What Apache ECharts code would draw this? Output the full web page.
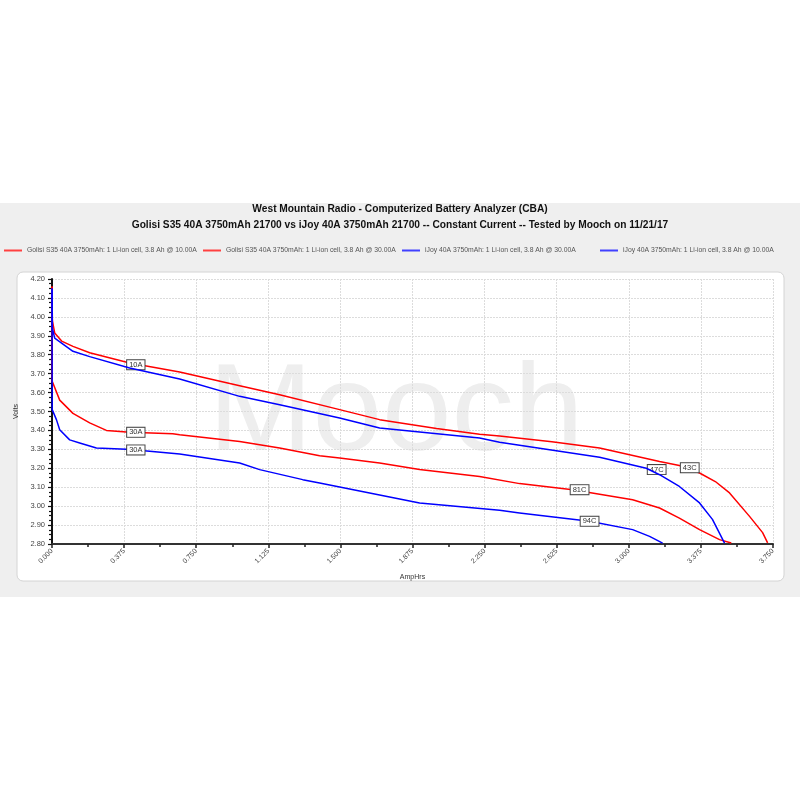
<!DOCTYPE html>
<html><head><meta charset="utf-8">
<script src="https://cdn.jsdelivr.net/npm/echarts@6/dist/echarts.min.js"></script>
<style>html,body{margin:0;padding:0;background:#fff}#c{width:800px;height:800px}</style>
</head><body><div id="c"></div>
<script>
const titleLine1 = 'West Mountain Radio - Computerized Battery Analyzer (CBA)';
const titleLine2 = 'Golisi S35 40A 3750mAh 21700 vs iJoy 40A 3750mAh 21700 -- Constant Current -- Tested by Mooch on 11/21/17';
const seriesNames = [
  'Golisi S35 40A 3750mAh: 1 Li-ion cell, 3.8 Ah @ 10.00A',
  'Golisi S35 40A 3750mAh: 1 Li-ion cell, 3.8 Ah @ 30.00A',
  'iJoy 40A 3750mAh: 1 Li-ion cell, 3.8 Ah @ 30.00A',
  'iJoy 40A 3750mAh: 1 Li-ion cell, 3.8 Ah @ 10.00A'
];
const seriesColors = ['#ff0000', '#ff0000', '#0000ff', '#0000ff'];
const legendColors = ['#ff4040', '#ff4040', '#4040ff', '#4040ff'];

const golisi10A = [[0,4.16],[0.002,3.98],[0.014,3.915],[0.05,3.872],[0.109,3.844],[0.196,3.81],[0.404,3.756],[0.664,3.709],[0.976,3.636],[1.184,3.589],[1.496,3.51],[1.704,3.457],[2.0,3.41],[2.224,3.38],[2.328,3.37],[2.6,3.34],[2.848,3.307],[3.16,3.236],[3.263,3.215],[3.368,3.175],[3.45,3.13],[3.524,3.07],[3.628,2.946],[3.696,2.86],[3.722,2.806]];
const golisi30A = [[0,4.16],[0.001,3.66],[0.005,3.65],[0.04,3.56],[0.109,3.49],[0.196,3.44],[0.283,3.40],[0.404,3.39],[0.628,3.383],[0.664,3.377],[0.976,3.342],[1.184,3.307],[1.392,3.266],[1.496,3.254],[1.704,3.228],[1.912,3.193],[2.224,3.157],[2.432,3.119],[2.708,3.087],[3.02,3.034],[3.16,2.99],[3.263,2.937],[3.368,2.876],[3.472,2.823],[3.533,2.805]];
const ijoy30A = [[0,4.15],[0.001,3.51],[0.023,3.457],[0.04,3.404],[0.092,3.35],[0.144,3.334],[0.231,3.307],[0.387,3.30],[0.508,3.29],[0.664,3.276],[0.768,3.26],[0.976,3.228],[1.08,3.193],[1.304,3.14],[1.392,3.122],[1.912,3.017],[2.328,2.978],[2.432,2.964],[2.796,2.92],[3.02,2.876],[3.108,2.84],[3.176,2.805]];
const ijoy10A = [[0,4.15],[0.002,3.94],[0.014,3.888],[0.109,3.818],[0.196,3.79],[0.404,3.73],[0.664,3.672],[0.976,3.58],[1.184,3.536],[1.496,3.466],[1.704,3.413],[2.224,3.36],[2.328,3.338],[2.848,3.258],[3.091,3.20],[3.16,3.166],[3.263,3.104],[3.368,3.017],[3.435,2.93],[3.498,2.805]];
const seriesData = [golisi10A, golisi30A, ijoy30A, ijoy10A];

// annotation boxes: text, series index, Ah, Volts
const noteText = ['10A', '43C', '30A', '81C', '30A', '94C', '47C'];
const noteSeries = [0, 0, 1, 1, 2, 2, 3];
const noteAh = [0.436, 3.317, 0.436, 2.744, 0.436, 2.796, 3.145];
const noteV = [3.747, 3.203, 3.39, 3.087, 3.297, 2.92, 3.193];

const xMin = 0, xMax = 3.75, xStep = 0.375;
const yMin = 2.8, yMax = 4.2, yStep = 0.1;
const xAxisName = 'AmpHrs', yAxisName = 'Volts';
const watermark = 'Mooch';

const chart = echarts.init(document.getElementById('c'), null, {renderer: 'canvas'});
const FONT = 'Liberation Sans, Arial, sans-serif';

const legendLeft = [4, 203, 402, 600];
const legends = seriesNames.map((n, i) => ({
  data: [n], left: legendLeft[i], top: 247, padding: 0, itemWidth: 18, itemHeight: 2, icon: 'rect',
  itemGap: 4, textStyle: {fontSize: 6.8, color: '#555', fontFamily: FONT},
  selectedMode: false
}));

const series = seriesData.map((d, i) => {
  const mp = [];
  noteText.forEach((t, k) => {
    if (noteSeries[k] === i) mp.push({coord: [noteAh[k], noteV[k]], value: t});
  });
  return {
    name: seriesNames[i], type: 'line', data: d, showSymbol: false, symbol: 'none',
    lineStyle: {color: seriesColors[i], width: 1.5, join: 'round'}, itemStyle: {color: legendColors[i]},
    z: 2 + i, animation: false,
    markPoint: mp.length ? {
      symbol: 'rect', symbolSize: [1, 1], itemStyle: {color: 'transparent'},
      label: {show: true, position: 'inside', formatter: p => p.value, fontSize: 7.5, color: '#333',
        fontFamily: FONT, backgroundColor: '#fff', borderColor: '#444', borderWidth: 1, padding: [1, 2, 0, 2]},
      data: mp, animation: false
    } : undefined
  };
});

chart.setOption({
  animation: false,
  backgroundColor: '#ffffff',
  title: [
    {text: titleLine1, left: 'center', top: 204, padding: 0, textStyle: {fontSize: 10.2, fontWeight: 'bold', color: '#111', fontFamily: FONT}},
    {text: titleLine2, left: 'center', top: 220, padding: 0, textStyle: {fontSize: 10.2, fontWeight: 'bold', color: '#111', fontFamily: FONT}}
  ],
  legend: legends,
  graphic: [
    {type: 'rect', z: -10, silent: true, shape: {x: 0, y: 203, width: 800, height: 394}, style: {fill: '#efefef'}},
    {type: 'rect', z: -9, silent: true, shape: {x: 17, y: 272, width: 767, height: 309, r: 6}, style: {fill: '#ffffff', stroke: '#d4d4d4', lineWidth: 1}},
    {type: 'text', z: -8, silent: true, x: 396, y: 416, style: {text: watermark, fontSize: 125, fontFamily: FONT, fill: '#eeeeee', align: 'center', verticalAlign: 'middle'}}
  ],
  grid: {left: 52, right: 27, top: 279, bottom: 256, containLabel: false},
  xAxis: {
    type: 'value', min: xMin, max: xMax, interval: xStep,
    name: xAxisName, nameLocation: 'middle', nameGap: 30,
    nameTextStyle: {fontSize: 7, color: '#333', fontFamily: FONT},
    axisLine: {show: true, onZero: false, lineStyle: {color: '#333', width: 2}},
    axisTick: {show: true, length: 4, lineStyle: {color: '#222', width: 1.5}},
    minorTick: {show: true, splitNumber: 2, length: 3, lineStyle: {color: '#222', width: 1.5}},
    axisLabel: {rotate: 45, fontSize: 7, color: '#444', fontFamily: FONT, margin: 6, formatter: v => v.toFixed(3)},
    splitLine: {show: true, lineStyle: {color: '#dcdcdc', type: [2, 1], width: 1}}
  },
  yAxis: {
    type: 'value', min: yMin, max: yMax, interval: yStep,
    name: yAxisName, nameLocation: 'middle', nameGap: 26, nameRotate: 90,
    nameTextStyle: {fontSize: 7, color: '#333', fontFamily: FONT},
    axisLine: {show: true, onZero: false, lineStyle: {color: '#111', width: 2}},
    axisTick: {show: true, length: 4, lineStyle: {color: '#111', width: 1.2}},
    minorTick: {show: true, splitNumber: 4, length: 3, lineStyle: {color: '#111', width: 1.2}},
    axisLabel: {fontSize: 7.5, color: '#444', fontFamily: FONT, margin: 7, formatter: v => v.toFixed(2)},
    splitLine: {show: true, lineStyle: {color: '#dcdcdc', type: [2, 1], width: 1}}
  },
  series: series
});
</script></body></html>
